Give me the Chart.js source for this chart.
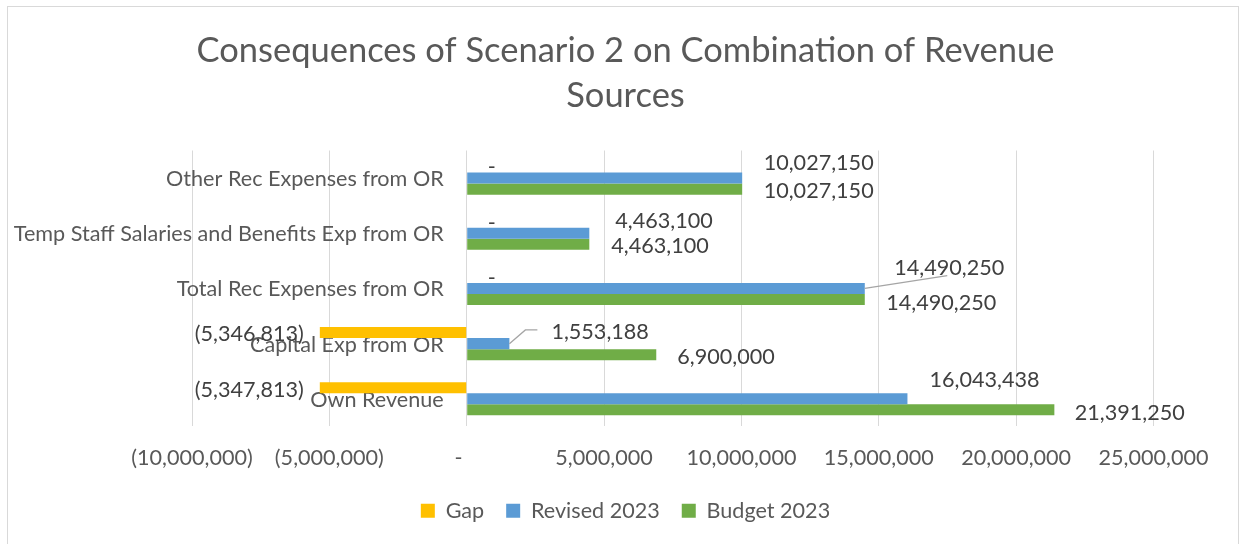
<!DOCTYPE html>
<html><head><meta charset="utf-8">
<script src="https://cdn.jsdelivr.net/npm/chart.js@4.4.1/dist/chart.umd.min.js"></script>
<style>html,body{margin:0;padding:0;background:#fff;}canvas{display:block;}</style>
</head><body>
<canvas id="c" width="1243" height="544"></canvas>
<script>
// ---- data ----
const chartTitle = ['Consequences of Scenario 2 on Combination of Revenue', 'Sources'];
const categories = ['Other Rec Expenses from OR', 'Temp Staff Salaries and Benefits Exp from OR', 'Total Rec Expenses from OR', 'Capital Exp from OR', 'Own Revenue'];
const seriesNames = ['Gap', 'Revised 2023', 'Budget 2023'];
const gapValues = [0, 0, 0, -5346813, -5347813];
const revisedValues = [10027150, 4463100, 14490250, 1553188, 16043438];
const budgetValues = [10027150, 4463100, 14490250, 6900000, 21391250];
const xTickValues = [-10000000, -5000000, 0, 5000000, 10000000, 15000000, 20000000, 25000000];

// ---- styles ----
const seriesColors = ['#FFC000', '#5B9BD5', '#70AD47'];
const FONT = 'Lato, "Open Sans", sans-serif';
const LABEL_SIZE = 21.6;
// data-label nudges (px, relative to bar end / bar centre)
const gapNudge = [[21, 0.3], [21, 1], [21, 0.3], [-16, 1.7], [-16, 2.2]];
const revisedNudge = [[21.5, -14.8], [26, -11.8], [29.5, -20.8], [42, -11.2], [22, -18.5]];
const budgetNudge = [[21.5, 1.9], [22, 2.2], [21.5, 3.2], [21, 2.7], [20.4, 3.2]];
const revisedLeader = [null, null, 'below', 'left', null];

function acct(v) {
  if (v === 0) return '-';
  const s = Math.abs(v).toLocaleString('en-US');
  return v < 0 ? '(' + s + ')' : s;
}

const framePlugin = {
  id: 'frame',
  beforeDraw(chart) {
    const ctx = chart.ctx;
    ctx.save();
    ctx.fillStyle = '#ffffff';
    ctx.fillRect(0, 0, chart.width, chart.height);
    ctx.strokeStyle = '#D9D9D9';
    ctx.lineWidth = 1;
    ctx.strokeRect(7.5, 6.5, 1231, 600);
    ctx.restore();
  }
};

const categoryLabelPlugin = {
  id: 'catLabels',
  beforeDatasetsDraw(chart) {
    const {ctx, scales: {x, y}} = chart;
    const xr = x.getPixelForValue(0) - 23;
    ctx.save();
    ctx.beginPath();
    ctx.rect(8, 0, chart.width, chart.height);
    ctx.clip();
    ctx.font = LABEL_SIZE + 'px ' + FONT;
    ctx.fillStyle = '#595959';
    ctx.textAlign = 'right';
    ctx.textBaseline = 'middle';
    categories.forEach((c, i) => ctx.fillText(c, xr, y.getPixelForValue(i) + 1));
    ctx.restore();
  }
};

const dataLabelPlugin = {
  id: 'dataLabels',
  afterDatasetsDraw(chart) {
    const ctx = chart.ctx;
    const nudges = [gapNudge, revisedNudge, budgetNudge];
    ctx.save();
    ctx.font = LABEL_SIZE + 'px ' + FONT;
    ctx.textBaseline = 'middle';
    chart.data.datasets.forEach((ds, di) => {
      const meta = chart.getDatasetMeta(di);
      meta.data.forEach((bar, i) => {
        const v = ds.data[i];
        const txt = acct(v);
        const [dx, dy] = nudges[di][i];
        const tx = bar.x + dx, ty = bar.y + dy;
        const w = ctx.measureText(txt).width;
        ctx.fillStyle = '#404040';
        ctx.textAlign = v < 0 ? 'right' : 'left';
        ctx.fillText(txt, tx, ty);
        if (di === 1 && revisedLeader[i]) {
          ctx.strokeStyle = '#A5A5A5';
          ctx.lineWidth = 1.3;
          ctx.beginPath();
          ctx.moveTo(bar.x, bar.y);
          if (revisedLeader[i] === 'below') {
            ctx.lineTo(tx + w / 2 - 2, ty + 8);
          } else {
            ctx.lineTo(tx - 26, ty - 2.5);
            ctx.lineTo(tx - 14, ty - 2.5);
          }
          ctx.stroke();
        }
      });
    });
    ctx.restore();
  }
};

const valueSeries = [gapValues, revisedValues, budgetValues];

new Chart(document.getElementById('c'), {
  type: 'bar',
  data: {
    labels: categories,
    datasets: seriesNames.map((n, k) => ({
      label: n,
      data: valueSeries[k],
      backgroundColor: seriesColors[k],
      borderWidth: 0,
      categoryPercentage: 0.6,
      barPercentage: 1.0
    }))
  },
  options: {
    indexAxis: 'y',
    responsive: false,
    animation: false,
    layout: {padding: {top: 0, bottom: 12.5, left: 8, right: 0}},
    plugins: {
      title: {
        display: true,
        text: chartTitle,
        color: '#595959',
        font: {family: FONT, size: 34.5, weight: 'normal', lineHeight: 1.29},
        padding: {top: 28.7, bottom: 32.8}
      },
      legend: {
        position: 'bottom',
        labels: {
          font: {family: FONT, size: LABEL_SIZE},
          color: '#595959',
          boxWidth: 14,
          boxHeight: 14,
          padding: 22
        }
      },
      tooltip: {enabled: false}
    },
    scales: {
      x: {
        type: 'linear',
        min: xTickValues[0],
        max: xTickValues[xTickValues.length - 1],
        afterBuildTicks: s => { s.ticks = xTickValues.map(v => ({value: v})); },
        ticks: {
          callback: v => v === 0 ? '-   ' : acct(v),
          font: {family: FONT, size: LABEL_SIZE},
          color: '#595959',
          padding: 19,
          maxRotation: 0,
          autoSkip: false
        },
        grid: {color: '#D9D9D9', lineWidth: 1, drawTicks: false},
        border: {display: false},
        afterFit: s => { s.height = 51.5; }
      },
      y: {
        type: 'category',
        position: 'left',
        ticks: {display: false},
        grid: {display: false},
        border: {display: false},
        afterFit: s => { s.width = 184; }
      },
      yRight: {
        type: 'linear',
        position: 'right',
        min: 0,
        max: 1,
        ticks: {display: false},
        grid: {display: false},
        border: {display: false},
        afterFit: s => { s.width = 89.5; }
      }
    }
  },
  plugins: [framePlugin, categoryLabelPlugin, dataLabelPlugin]
});
</script>
</body></html>
